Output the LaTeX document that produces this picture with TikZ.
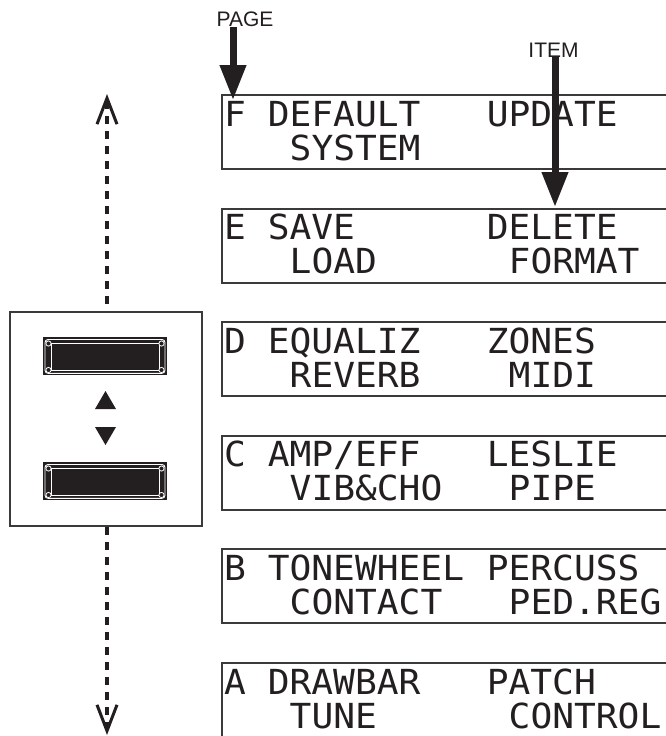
\documentclass[tikz,border=0pt]{standalone}
\usepackage{fontspec}
\setmainfont{Liberation Sans}
\newfontfamily\lcdfont[FakeStretch=1.05]{DejaVu Sans Mono}
\newfontfamily\tagfont{Liberation Sans}
\usetikzlibrary{arrows.meta}
\definecolor{ink}{HTML}{231F20}
\definecolor{frame}{HTML}{3A3A3A}
\tikzset{
  dispbox/.style={draw=frame, line width=2pt, minimum width=480pt, minimum height=74pt, anchor=north west, inner sep=0pt},
  lcd/.style={anchor=base west, inner sep=0pt, outer sep=0pt, font=\lcdfont\fontsize{34.5}{36}\selectfont, text=ink},
  toplabel/.style={font=\tagfont\fontsize{21}{24}\selectfont, text=ink, anchor=base, inner sep=0pt},
  bigarrow/.style={draw=ink, line width=7pt, -{Triangle[length=35pt,width=25pt]}},
  dashline/.style={draw=ink, line width=3.2pt, dash pattern=on 7.5pt off 7.5pt, -{Straight Barb[length=26pt,width=20pt,line width=3pt]}},
  fbutton/.pic={
    \fill[ink] (-62,-19) rectangle (62,19);
    \draw[white, line width=0.9pt, rounded corners=3pt] (-60,-16.5) rectangle (60,17.3);
    \draw[white, line width=0.9pt] (-54,-12.5) rectangle (54,14);
    \foreach \sx in {-1,1} {
      \draw[white, fill=ink, line width=0.8pt] (\sx*56.5,-12.5) circle (2.6pt);
      \draw[white, fill=ink, line width=0.8pt] (\sx*56.5,14) circle (2.6pt);
    }
  }
}
\begin{document}
\begin{tikzpicture}[x=1pt, y=-1pt]
\useasboundingbox (0,0) rectangle (666,736);
\clip (0,0) rectangle (666,736);
\fill[white] (0,0) rectangle (666,736);

% display boxes
\node[dispbox] (boxF) at (221,94) {};
\node[dispbox] (boxE) at (221,207.6) {};
\node[dispbox] (boxD) at (221,321.2) {};
\node[dispbox] (boxC) at (221,434.8) {};
\node[dispbox] (boxB) at (221,548.4) {};
\node[dispbox] (boxA) at (221,662) {};

% F
\node[lcd] (tF0) at (224,126) {F};
\node[lcd] (tF1) at (267.8,126) {DEFAULT};
\node[lcd] (tF2) at (486.8,126) {UPDATE};
\node[lcd] (tF3) at (289.7,160) {SYSTEM};
% E
\node[lcd] (tE0) at (224,239.6) {E};
\node[lcd] (tE1) at (267.8,239.6) {SAVE};
\node[lcd] (tE2) at (486.8,239.6) {DELETE};
\node[lcd] (tE3) at (289.7,273.6) {LOAD};
\node[lcd] (tE4) at (508.7,273.6) {FORMAT};
% D
\node[lcd] (tD0) at (224,353.2) {D};
\node[lcd] (tD1) at (267.8,353.2) {EQUALIZ};
\node[lcd] (tD2) at (486.8,353.2) {ZONES};
\node[lcd] (tD3) at (289.7,387.2) {REVERB};
\node[lcd] (tD4) at (508.7,387.2) {MIDI};
% C
\node[lcd] (tC0) at (224,466.8) {C};
\node[lcd] (tC1) at (267.8,466.8) {AMP/EFF};
\node[lcd] (tC2) at (486.8,466.8) {LESLIE};
\node[lcd] (tC3) at (289.7,500.8) {VIB\&CHO};
\node[lcd] (tC4) at (508.7,500.8) {PIPE};
% B
\node[lcd] (tB0) at (224,580.4) {B};
\node[lcd] (tB1) at (267.8,580.4) {TONEWHEEL};
\node[lcd] (tB2) at (486.8,580.4) {PERCUSS};
\node[lcd] (tB3) at (289.7,614.4) {CONTACT};
\node[lcd] (tB4) at (508.7,614.4) {PED.REG};
% A
\node[lcd] (tA0) at (224,694) {A};
\node[lcd] (tA1) at (267.8,694) {DRAWBAR};
\node[lcd] (tA2) at (486.8,694) {PATCH};
\node[lcd] (tA3) at (289.7,728) {TUNE};
\node[lcd] (tA4) at (508.7,728) {CONTROL};

% left panel
\node[draw=frame, line width=2pt, minimum width=192pt, minimum height=214pt, anchor=north west, inner sep=0pt] (panel) at (9,311) {};
\pic (btnup) at (105,356) {fbutton};
\pic (btndown) at (105,481) {fbutton};
\fill[ink] (95,409) -- (116,409) -- (105.5,391) -- cycle;
\fill[ink] (95,427) -- (116,427) -- (105.5,445) -- cycle;

% dashed arrows
\coordinate (uptip) at (107,94);
\coordinate (downtip) at (107,735);
\draw[dashline, dash phase=7.5pt] (panel.north -| uptip) -- (uptip);
\draw[dashline] (panel.south -| downtip) -- (downtip);

% labels and arrows
\node[toplabel] (page) at (245,27) {PAGE};
\node[toplabel] (item) at (553.5,57) {ITEM};
\coordinate (pagetip) at (233,100);
\coordinate (itemtip) at (555,207);
\draw[bigarrow] (page.south -| pagetip) -- (pagetip);
\draw[bigarrow] (item.south -| itemtip) -- (itemtip);
\end{tikzpicture}
\end{document}
